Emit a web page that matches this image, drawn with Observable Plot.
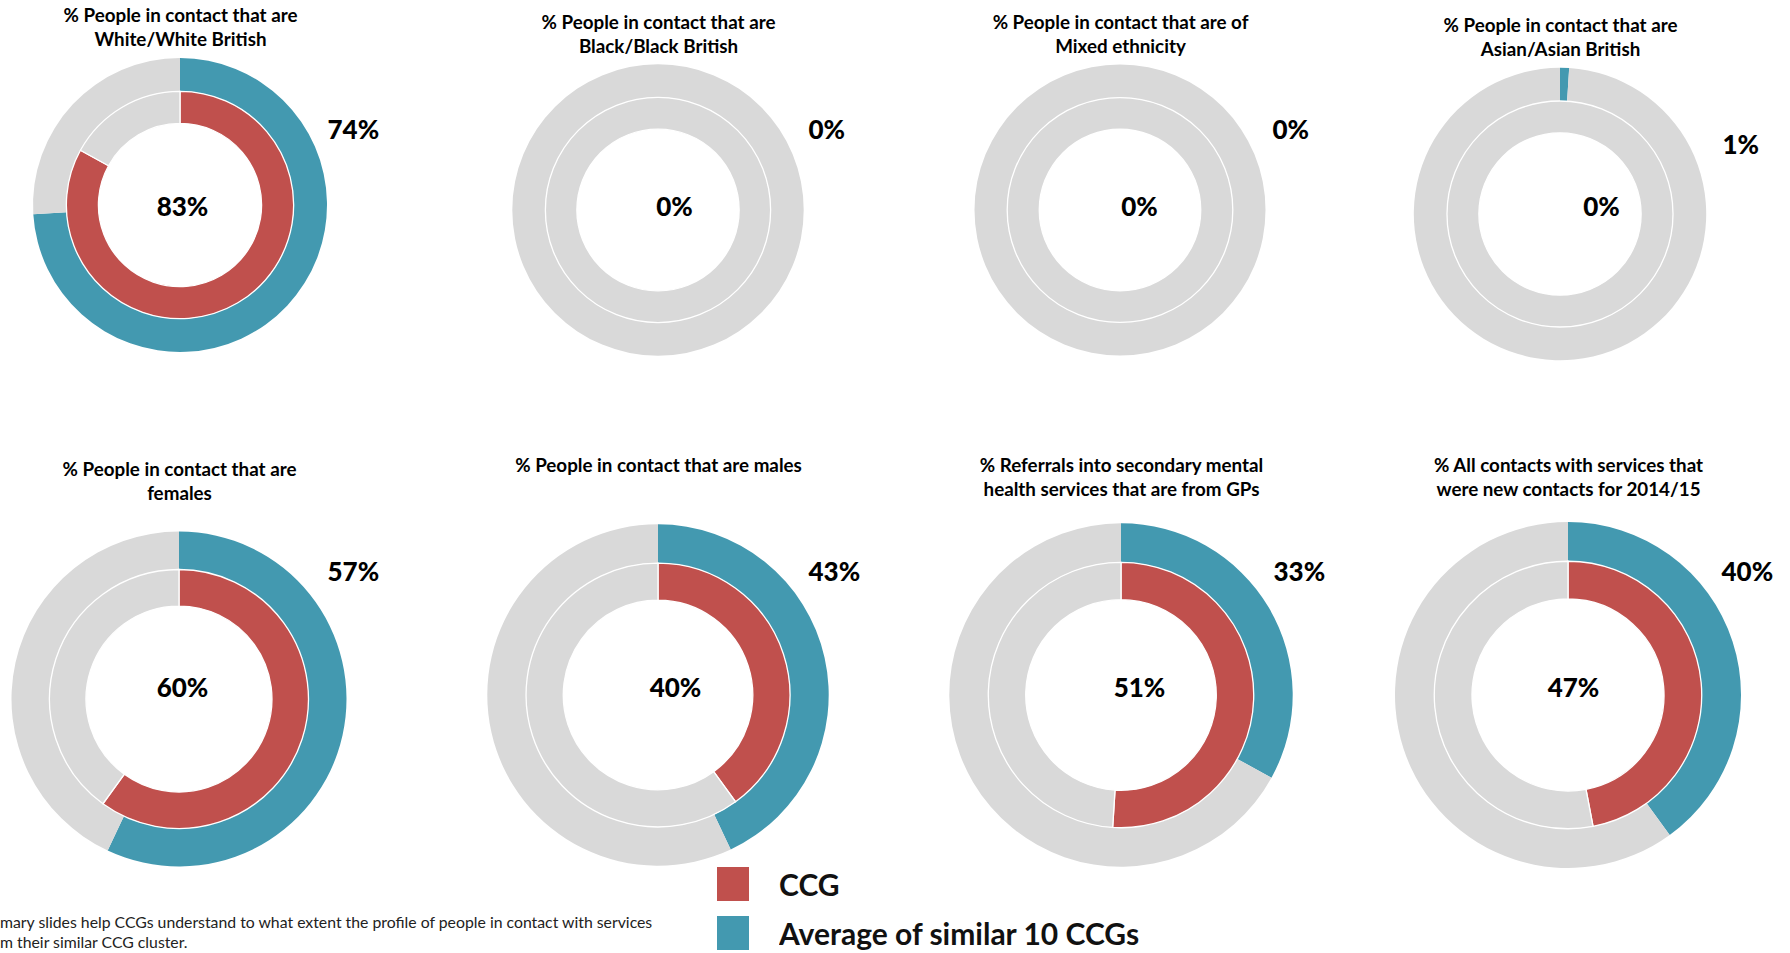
<!DOCTYPE html>
<html><head><meta charset="utf-8">
<script src="https://cdn.jsdelivr.net/npm/d3@7"></script>
<script src="https://cdn.jsdelivr.net/npm/@observablehq/plot@0.6"></script>
<style>
html,body{margin:0;padding:0;background:#fff;}
#page{position:relative;width:1790px;height:953px;overflow:hidden;font-family:Lato,sans-serif;}
.cell{position:absolute;}
.cell svg{overflow:visible;background:transparent;}
g[aria-label="pct"] text{letter-spacing:4.5px;}
#note{position:absolute;left:0;top:912px;font:15.8px Lato,sans-serif;color:#222;line-height:20px;white-space:nowrap;}
#legend{position:absolute;left:717px;top:867px;}
#legend .lg-swatch{margin-bottom:14px;font:bold 30px Lato,sans-serif;line-height:34px;color:#111;display:flex;align-items:center;}
#legend .lg-swatch svg{margin-right:30px !important;}
</style></head><body><div id="page"></div>
<script>
// ---- data ----
const titles = [
  "% People in contact that are\nWhite/White British",
  "% People in contact that are\nBlack/Black British",
  "% People in contact that are of\nMixed ethnicity",
  "% People in contact that are\nAsian/Asian British",
  "% People in contact that are\nfemales",
  "% People in contact that are males",
  "% Referrals into secondary mental\nhealth services that are from GPs",
  "% All contacts with services that\nwere new contacts for 2014/15"
];
const ccgValues = [83, 0, 0, 0, 60, 40, 51, 47];
const averageValues = [74, 0, 0, 1, 57, 43, 33, 40];
const seriesNames = ["CCG", "Average of similar 10 CCGs"];
const noteLines = [
  "mary slides help CCGs understand to what extent the profile of people in contact with services",
  "m their similar CCG cluster."
];

// ---- layout (page pixels) ----
const layout = [
  {left:0,    top:0,   w:447, h:380, cx:180,  cy:205, R:147,   titleY:15,  outerX:327,  outerY:130, centerX:180,  centerY:207},
  {left:447,  top:0,   w:448, h:380, cx:658,  cy:210, R:145.7, titleY:22,  outerX:808,  outerY:130, centerX:672,  centerY:207},
  {left:895,  top:0,   w:447, h:380, cx:1120, cy:210, R:145.5, titleY:22,  outerX:1272, outerY:130, centerX:1137, centerY:207},
  {left:1342, top:0,   w:448, h:380, cx:1560, cy:214, R:146.2, titleY:25,  outerX:1722, outerY:145, centerX:1599, centerY:207},
  {left:0,    top:440, w:447, h:440, cx:179,  cy:699, R:167.5, titleY:469, outerX:327,  outerY:572, centerX:180,  centerY:688},
  {left:447,  top:440, w:448, h:440, cx:658,  cy:695, R:170.7, titleY:465, outerX:808,  outerY:572, centerX:673,  centerY:688},
  {left:895,  top:440, w:447, h:440, cx:1121, cy:695, R:171.7, titleY:465, outerX:1273, outerY:572, centerX:1137, centerY:688},
  {left:1342, top:440, w:448, h:440, cx:1568, cy:695, R:173,   titleY:465, outerX:1721, outerY:572, centerX:1571, centerY:688}
];
const colors = {ccg: "#c0504d", avg: "#4399b0", rest: "#d9d9d9"};
const ringFractions = {hole: 0.555, mid: 0.773, outer: 1};

const angle = Plot.scale({x: {domain: [0, 100], range: [0, 2 * Math.PI]}});

function ringsMark(ccg, avg) {
  return (index, scales, values, dims) => {
    const fw = dims.width - dims.marginLeft - dims.marginRight;
    const fh = dims.height - dims.marginTop - dims.marginBottom;
    const cx = dims.marginLeft + fw / 2, cy = dims.marginTop + fh / 2;
    const radius = Plot.scale({x: {domain: [0, 1], range: [0, fw / 2]}});
    const segs = [
      {r0: ringFractions.mid, r1: ringFractions.outer, a0: 0, a1: avg, fill: colors.avg, stroke: "none"},
      {r0: ringFractions.mid, r1: ringFractions.outer, a0: avg, a1: 100, fill: colors.rest, stroke: "none"},
      {r0: ringFractions.hole, r1: ringFractions.mid, a0: 0, a1: ccg, fill: colors.ccg, stroke: "#fff"},
      {r0: ringFractions.hole, r1: ringFractions.mid, a0: ccg, a1: 100, fill: colors.rest, stroke: "#fff"}
    ].filter(d => d.a1 > d.a0);
    const g = d3.create("svg:g").attr("transform", `translate(${cx},${cy})`);
    const arc = d3.arc();
    g.selectAll("path").data(segs).join("path")
      .attr("d", d => arc({innerRadius: radius.apply(d.r0), outerRadius: radius.apply(d.r1),
                           startAngle: angle.apply(d.a0), endAngle: angle.apply(d.a1)}))
      .attr("fill", d => d.fill)
      .attr("stroke", d => d.stroke)
      .attr("stroke-width", 1.3);
    return g.node();
  };
}

const page = document.getElementById("page");
titles.forEach((title, i) => {
  const L = layout[i];
  const mL = L.cx - L.R - L.left, mT = L.cy - L.R - L.top;
  const mR = L.w - mL - 2 * L.R, mB = L.h - mT - 2 * L.R;
  const frameTop = L.cy - L.R, frameRight = L.cx + L.R;
  const chart = Plot.plot({
    width: L.w, height: L.h,
    marginLeft: mL, marginTop: mT, marginRight: mR, marginBottom: mB,
    style: {fontFamily: "Lato, sans-serif", background: "transparent", overflow: "visible"},
    marks: [
      ringsMark(ccgValues[i], averageValues[i]),
      Plot.text([title], {text: d => d, frameAnchor: "top", lineAnchor: "top",
        dy: (L.titleY - 11) - frameTop, fontSize: 18.8, fontWeight: "bold", lineHeight: 1.29, fill: "#000"}),
      Plot.text([averageValues[i]], {text: d => `${d}%`, frameAnchor: "top-right", textAnchor: "start",
        lineAnchor: "middle", dx: L.outerX - frameRight, dy: L.outerY - frameTop,
        fontSize: 26, fontWeight: 900, fill: "#000", ariaLabel: "pct"}),
      Plot.text([ccgValues[i]], {text: d => `${d}%`, frameAnchor: "middle",
        lineAnchor: "middle", dx: L.centerX - L.cx + 2, dy: L.centerY - L.cy,
        fontSize: 26, fontWeight: 900, fill: "#000", ariaLabel: "pct"})
    ]
  });
  const div = document.createElement("div");
  div.className = "cell";
  div.style.left = L.left + "px";
  div.style.top = L.top + "px";
  div.appendChild(chart);
  page.appendChild(div);
});

const legend = Plot.legend({
  color: {type: "categorical", domain: seriesNames, range: [colors.ccg, colors.avg]},
  legend: "swatches", columns: 1, swatchWidth: 32, swatchHeight: 34, className: "lg"
});
const legDiv = document.createElement("div");
legDiv.id = "legend";
legDiv.appendChild(legend);
page.appendChild(legDiv);

const note = document.createElement("div");
note.id = "note";
noteLines.forEach(t => { const d = document.createElement("div"); d.textContent = t; note.appendChild(d); });
page.appendChild(note);
</script></body></html>
